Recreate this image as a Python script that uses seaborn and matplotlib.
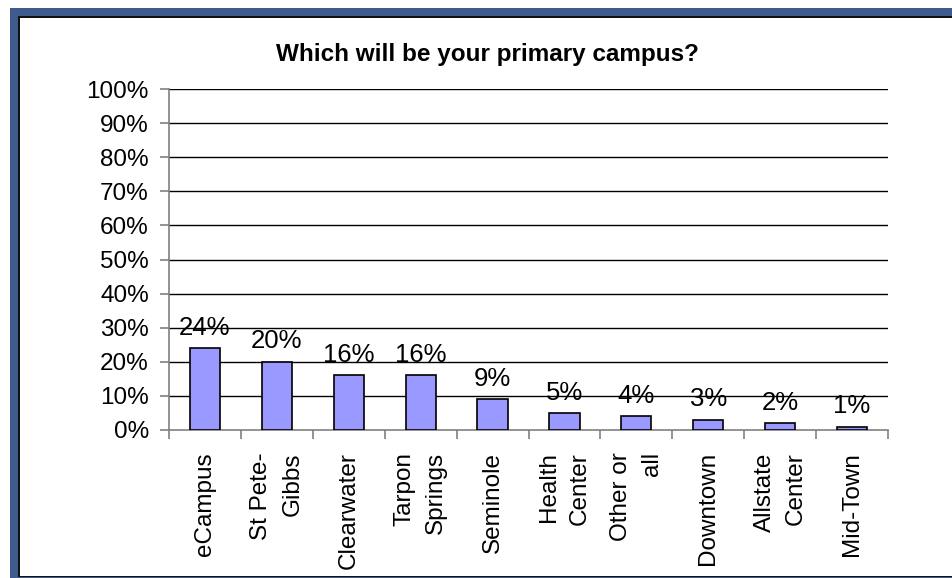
import matplotlib
matplotlib.use("Agg")
import matplotlib.pyplot as plt
from matplotlib.patches import Rectangle
from matplotlib.ticker import FixedLocator, PercentFormatter
import seaborn as sns
import pandas as pd

campuses = ["eCampus", "St Pete-\nGibbs", "Clearwater", "Tarpon\nSprings", "Seminole",
            "Health\nCenter", "Other or\nall", "Downtown", "Allstate\nCenter", "Mid-Town"]
shares = [24, 20, 16, 16, 9, 5, 4, 3, 2, 1]
value_labels = ["24%", "20%", "16%", "16%", "9%", "5%", "4%", "3%", "2%", "1%"]
y_ticks = [0, 10, 20, 30, 40, 50, 60, 70, 80, 90, 100]

df = pd.DataFrame({"campus": campuses, "share": shares})

sns.set_theme(style="white")
plt.rcParams["font.family"] = ["Liberation Sans", "DejaVu Sans"]

W, H = 953, 578
fig = plt.figure(figsize=(W / 100, H / 100), dpi=100)
ax = fig.add_axes([169 / W, (H - 430) / H, (888 - 169) / W, (430 - 89) / H])

sns.barplot(data=df, x="campus", y="share", ax=ax, color="#9999FF",
            saturation=1, width=0.42, edgecolor="black", linewidth=1.2, zorder=3)

ax.set_xlim(-0.5, len(campuses) - 0.5)
ax.set_ylim(0, 100)
ax.yaxis.set_major_locator(FixedLocator(y_ticks))
ax.yaxis.set_major_formatter(PercentFormatter(decimals=0))
ax.set_xlabel("")
ax.set_ylabel("")

# horizontal gridlines
for v in y_ticks[1:]:
    ax.axhline(v, color="black", linewidth=1, zorder=1)

for s in ["top", "right"]:
    ax.spines[s].set_visible(False)
ax.spines["left"].set_color("#808080")
ax.spines["bottom"].set_color("#808080")
ax.spines["left"].set_linewidth(1.2)
ax.spines["bottom"].set_linewidth(1.2)

ax.tick_params(axis="y", which="major", length=6.5, width=1.2, color="#808080",
               labelsize=17.5, pad=8, left=True, labelcolor="black")
ax.tick_params(axis="x", which="major", length=0, labelsize=17.5, pad=16,
               labelcolor="black")
ax.set_xticks(range(len(campuses)))
ax.set_xticklabels(campuses, rotation=90, va="top", ha="center",
                   multialignment="right", linespacing=1.55)
ax.xaxis.set_minor_locator(FixedLocator([i - 0.5 for i in range(len(campuses) + 1)]))
ax.tick_params(axis="x", which="minor", length=6.5, width=1.2, color="#808080", bottom=True)

for i, (v, lab) in enumerate(zip(shares, value_labels)):
    ax.annotate(lab, (i, v), xytext=(0, 6), textcoords="offset points",
                ha="center", va="bottom", fontsize=18.5, color="black", zorder=4)

fig.text(487 / W, (H - 55) / H, "Which will be your primary campus?",
         ha="center", va="center", fontsize=17.5, fontweight="bold", color="black")

# slide frame
blue = "#3F5A8C"
tf = fig.transFigure
def px_rect(x0, y0, x1, y1, color):
    fig.add_artist(Rectangle((x0 / W, (H - y1) / H), (x1 - x0) / W, (y1 - y0) / H,
                             transform=tf, facecolor=color, edgecolor="none", zorder=10))

px_rect(10, 8, W, 16, blue)
px_rect(18, 16, W, 17.5, "#111111")
px_rect(10, 8, 18, H, blue)
px_rect(18, 16, 19.5, H, "#111111")
px_rect(18, 575.5, W, 577, "#111111")
px_rect(18, 577, W, H, blue)

fig.savefig("out.png", dpi=100, facecolor="white")
